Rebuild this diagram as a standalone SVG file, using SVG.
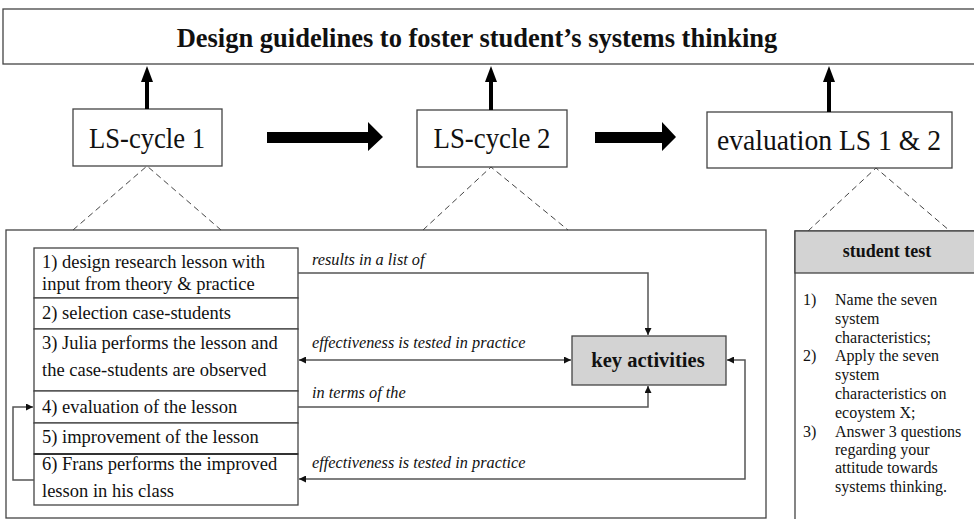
<svg xmlns="http://www.w3.org/2000/svg" width="974" height="519" viewBox="0 0 974 519">
<defs>
<marker id="ah" viewBox="0 0 10 10" refX="10" refY="5" markerWidth="7" markerHeight="7" orient="auto-start-reverse" markerUnits="userSpaceOnUse">
<path d="M0,0 L10,5 L0,10 z" fill="#111"/>
</marker>
</defs>
<style>
.box{fill:#fff;stroke:#444;stroke-width:1.3}
.grey{fill:#d3d3d3;stroke:#444;stroke-width:1.3}
.big{font-family:"Liberation Serif","Times New Roman",serif;font-size:29px;fill:#111;text-anchor:middle}
.item{font-family:"Liberation Serif","Times New Roman",serif;font-size:18.5px;fill:#111}
.small{font-family:"Liberation Serif","Times New Roman",serif;font-size:16px;fill:#111}
.lbl{font-family:"Liberation Serif","Times New Roman",serif;font-size:16.3px;font-style:italic;fill:#111}
.bold{font-family:"Liberation Serif","Times New Roman",serif;font-weight:bold;fill:#111;text-anchor:middle}
.dash{stroke:#444;stroke-width:1;stroke-dasharray:6,4;fill:none}
.conn{stroke:#555;stroke-width:1.5;fill:none}
.thick{stroke:#000;stroke-width:4;fill:none}
</style>
<rect width="974" height="519" fill="#fff"/>

<g id="title">
<rect class="box" x="3" y="9" width="975" height="55"/>
<text class="bold" x="477" y="47" font-size="26.5">Design guidelines to foster student’s systems thinking</text>
</g>

<g id="ls1">
<rect class="box" x="73" y="109" width="149" height="57"/>
<text class="big" x="147" y="148" textLength="116" lengthAdjust="spacingAndGlyphs">LS-cycle 1</text>
</g>
<g id="ls2">
<rect class="box" x="417" y="110" width="150" height="57"/>
<text class="big" x="492" y="148" textLength="117" lengthAdjust="spacingAndGlyphs">LS-cycle 2</text>
</g>
<g id="eval">
<rect class="box" x="707" y="112" width="245" height="56"/>
<text class="big" x="829" y="150" textLength="224" lengthAdjust="spacingAndGlyphs">evaluation LS 1 &amp; 2</text>
</g>

<g id="panel">
<rect class="box" x="6" y="230" width="760" height="288"/>
</g>

<g id="list">
<rect class="box" x="34" y="248" width="264" height="50"/>
<rect class="box" x="34" y="298" width="264" height="31"/>
<rect class="box" x="34" y="329" width="264" height="62"/>
<rect class="box" x="34" y="391" width="264" height="32"/>
<rect class="box" x="34" y="423" width="264" height="31"/>
<rect class="box" x="34" y="454" width="264" height="51"/>
<line x1="34" y1="454" x2="298" y2="454" stroke="#333" stroke-width="2"/>
<text class="item" x="42" y="268">1) design research lesson with</text>
<text class="item" x="42" y="290">input from theory &amp; practice</text>
<text class="item" x="42" y="319">2) selection case-students</text>
<text class="item" x="42" y="349">3) Julia performs the lesson and</text>
<text class="item" x="42" y="376">the case-students are observed</text>
<text class="item" x="42" y="413">4) evaluation of the lesson</text>
<text class="item" x="42" y="443">5) improvement of the lesson</text>
<text class="item" x="42" y="470">6) Frans performs the improved</text>
<text class="item" x="42" y="497">lesson in his class</text>
</g>

<g id="key">
<rect class="grey" x="572" y="336" width="154" height="49"/>
<text class="bold" x="648" y="367" font-size="20.5">key activities</text>
</g>

<g id="test">
<rect class="box" x="795" y="231" width="185" height="295"/>
<rect class="grey" x="795" y="231" width="185" height="42"/>
<text class="bold" x="887" y="257" font-size="18">student test</text>
<g class="small">
<text x="803" y="305">1)</text>
<text x="835" y="305">Name the seven</text>
<text x="835" y="324">system</text>
<text x="835" y="343">characteristics;</text>
<text x="803" y="361">2)</text>
<text x="835" y="361">Apply the seven</text>
<text x="835" y="380">system</text>
<text x="835" y="399">characteristics on</text>
<text x="835" y="418">ecoystem X;</text>
<text x="803" y="437">3)</text>
<text x="835" y="437">Answer 3 questions</text>
<text x="835" y="455">regarding your</text>
<text x="835" y="473">attitude towards</text>
<text x="835" y="492">systems thinking.</text>
</g>
</g>

<g id="connectors">
<line class="thick" x1="147" y1="109" x2="147" y2="80"/>
<polygon points="147,66 141,82 153,82" fill="#000"/>
<line class="thick" x1="491" y1="110" x2="491" y2="80"/>
<polygon points="491,66 485,82 497,82" fill="#000"/>
<line class="thick" x1="829" y1="112" x2="829" y2="80"/>
<polygon points="829,66 823,82 835,82" fill="#000"/>
<polygon points="267,132 368,132 368,122 383,137 368,151 368,143 267,143" fill="#000"/>
<polygon points="595,132 662,132 662,122 676,137 662,151 662,143 595,143" fill="#000"/>
<path class="dash" d="M73,230 L147,166 L221,230"/>
<path class="dash" d="M423,230 L491,167 L568,230"/>
<path class="dash" d="M808,231 L876,168 L950,231"/>
<path class="conn" d="M298,273 H648 V335" marker-end="url(#ah)"/>
<text class="lbl" x="312" y="265">results in a list of</text>
<path class="conn" d="M299,360 H571" marker-start="url(#ah)" marker-end="url(#ah)"/>
<text class="lbl" x="312" y="348">effectiveness is tested in practice</text>
<path class="conn" d="M298,407 H648 V386" marker-end="url(#ah)"/>
<text class="lbl" x="312" y="398">in terms of the</text>
<path class="conn" d="M727,360 H745 V479 H299" marker-start="url(#ah)" marker-end="url(#ah)"/>
<text class="lbl" x="312" y="468">effectiveness is tested in practice</text>
<path class="conn" d="M34,480 H13 V407 H33" marker-end="url(#ah)"/>
</g>
</svg>
